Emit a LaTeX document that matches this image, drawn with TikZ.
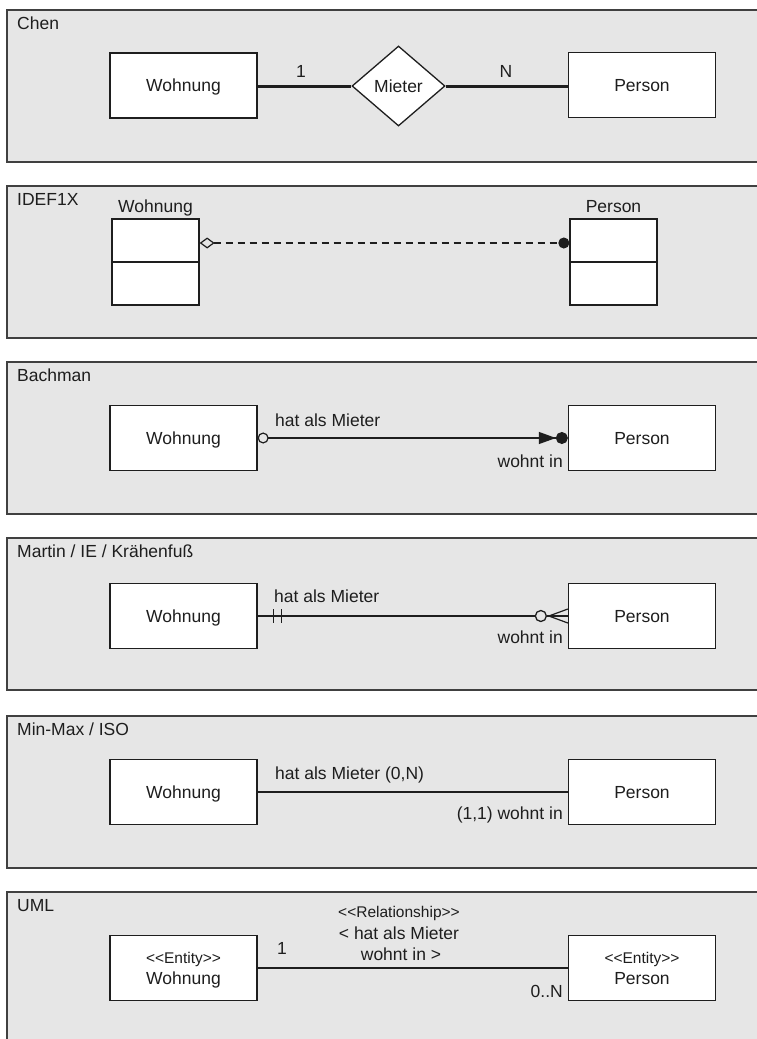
\documentclass[tikz,border=0pt]{standalone}
\usepackage{fontspec}
\setmainfont{Liberation Sans}
\usetikzlibrary{shapes.geometric,arrows.meta}
\definecolor{ink}{HTML}{1E1E1E}
\definecolor{panelgray}{HTML}{E6E6E6}
\newcommand{\stereofont}{\fontsize{15.5}{17}\selectfont}
% double angle brackets kept as two separate characters
\newcommand{\dblopen}{<\kern0pt<}
\newcommand{\dblclose}{>\kern0pt>}
\begin{document}
\begin{tikzpicture}[x=1pt,y=-1pt,
  every node/.style={font=\fontsize{17.5}{20}\selectfont, text=ink},
  panel/.style={draw=black!75, fill=panelgray, line width=1.4pt},
  entity/.style={draw=ink, fill=white, line width=1.3pt, minimum width=147pt, minimum height=65pt, inner sep=0pt},
  single/.style={text height=12.5pt, text depth=0pt},
  tbox/.style={draw=ink, fill=white, line width=1.3pt, minimum width=87pt, minimum height=86pt, inner sep=0pt},
  ptitle/.style={anchor=base west, inner sep=0pt},
  txt/.style={inner sep=0pt},
  rel/.style={draw=ink, line width=1.1pt},
]
\clip (0,0) rectangle (757,1039);
\fill[white] (0,0) rectangle (757,1039);

% background panels, open to the right
\foreach \t in {10,186,362,538,716,892}
  \path[panel] (7,\t) rectangle (790,\t+152);

% ---------------- Chen ----------------
\node[ptitle] (tchen) at (17,29) {Chen};
\node[entity, single] (w1) at (183.5,85.5) {Wohnung};
\node[entity, single] (p1) at (642,85) {Person};
\node[diamond, draw=ink, fill=white, line width=1.3pt, minimum width=93pt, minimum height=80pt, inner sep=0pt, single] (m1) at (398.5,86) {Mieter};
\draw[ink, line width=3pt] (w1.east |- m1.west) -- (m1.west);
\draw[ink, line width=3pt] (m1.east) -- (p1.west |- m1.east);
\node[txt, anchor=base] (c1) at (301,77) {1};
\node[txt, anchor=base] (cn) at (506,77) {N};

% ---------------- IDEF1X ----------------
\node[ptitle] (tidef) at (17,205) {IDEF1X};
\node[tbox] (w2) at (155.5,262) {};
\node[tbox] (p2) at (613.5,262) {};
\draw[ink, line width=1.2pt] (w2.west) -- (w2.east);
\draw[ink, line width=1.2pt] (p2.west) -- (p2.east);
\node[txt, anchor=base] (w2t) at (155.5,212) {Wohnung};
\node[txt, anchor=base] (p2t) at (613.5,212) {Person};
\draw[rel, dash pattern=on 7pt off 5pt,
      {Diamond[open, length=15pt, width=11pt, line width=1.2pt]}-{Circle[length=11pt]}]
  ([yshift=19pt]w2.east) -- ([yshift=19pt]p2.west);

% ---------------- Bachman ----------------
\node[ptitle] (tbach) at (17,381) {Bachman};
\node[entity, single] (w3) at (183.5,438) {Wohnung};
\node[entity, single] (p3) at (642,438) {Person};
\draw[rel, {Circle[open, length=11pt, width=11pt, line width=1.2pt]}-{Triangle[length=17pt, width=12pt]Circle[length=12pt]}]
  (w3.east) -- (p3.west);
\node[txt, anchor=base west] (b1) at (275,426) {hat als Mieter};
\node[txt, anchor=base east] (b2) at (563,467) {wohnt in};

% ---------------- Martin / IE ----------------
\node[ptitle] (tmart) at (17,557) {Martin / IE / Krähenfuß};
\node[entity, single] (w4) at (183.5,616) {Wohnung};
\node[entity, single] (p4) at (642,616) {Person};
\draw[rel] (w4.east) -- ([xshift=-33pt]p4.west);
\draw[rel] ([xshift=-21pt]p4.west) -- (p4.west);
\draw[rel, line width=1.3pt] ([shift={(16,-7)}]w4.east) -- ([shift={(16,7)}]w4.east);
\draw[rel, line width=1.3pt] ([shift={(24,-7)}]w4.east) -- ([shift={(24,7)}]w4.east);
\draw[rel, line width=1.3pt, fill=panelgray] ([xshift=-27pt]p4.west) circle (5.5);
\draw[rel, line width=1.2pt] ([shift={(0,-7)}]p4.west) -- ([xshift=-19pt]p4.west) -- ([shift={(0,7)}]p4.west);
\node[txt, anchor=base west] (m41) at (274,602) {hat als Mieter};
\node[txt, anchor=base east] (m42) at (563,643) {wohnt in};

% ---------------- Min-Max / ISO ----------------
\node[ptitle] (tmin) at (17,735) {Min-Max / ISO};
\node[entity, single] (w5) at (183.5,792) {Wohnung};
\node[entity, single] (p5) at (642,792) {Person};
\draw[rel] (w5.east) -- (p5.west);
\node[txt, anchor=base west] (n51) at (275,779) {hat als Mieter (0,N)};
\node[txt, anchor=base east] (n52) at (563,819) {(1,1) wohnt in};

% ---------------- UML ----------------
\node[ptitle] (tuml) at (17,911) {UML};
\node[entity, align=center, text depth=0pt] (w6) at (183.5,968) {{\stereofont \dblopen Entity\dblclose}\\[1pt]Wohnung};
\node[entity, align=center, text depth=0pt] (p6) at (642,968) {{\stereofont \dblopen Entity\dblclose}\\[1pt]Person};
\draw[rel] (w6.east) -- (p6.west);
\node[txt, anchor=base, font=\stereofont] (u1) at (399,917) {\dblopen Relationship\dblclose};
\node[txt, anchor=base] (u2) at (399,939) {< hat als Mieter};
\node[txt, anchor=base] (u3) at (401,960) {wohnt in >};
\node[txt, anchor=base west] (u4) at (277,954) {1};
\node[txt, anchor=base east] (u5) at (563,997) {0..N};
\end{tikzpicture}
\end{document}
